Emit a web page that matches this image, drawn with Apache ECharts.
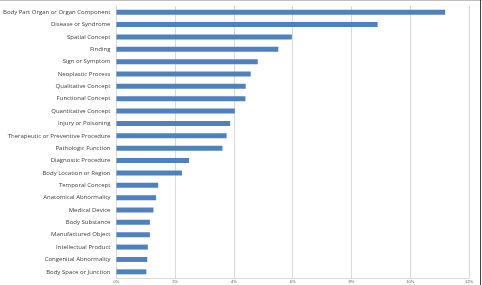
<!DOCTYPE html>
<html><head><meta charset="utf-8">
<script src="https://cdn.jsdelivr.net/npm/echarts@6/dist/echarts.min.js"></script>
<style>html,body{margin:0;padding:0;background:#fff}#c{width:482px;height:285px}</style>
</head><body><div id="c"></div>
<script>
const categories = [
  "Body Part Organ or Organ Component","Disease or Syndrome","Spatial Concept","Finding",
  "Sign or Symptom","Neoplastic Process","Qualitative Concept","Functional Concept",
  "Quantitative Concept","Injury or Poisoning","Therapeutic or Preventive Procedure",
  "Pathologic Function","Diagnostic Procedure","Body Location or Region","Temporal Concept",
  "Anatomical Abnormality","Medical Device","Body Substance","Manufactured Object",
  "Intellectual Product","Congenital Abnormality","Body Space or Junction"
];
const values = [11.19, 8.89, 5.97, 5.51, 4.81, 4.57, 4.40, 4.39, 4.03, 3.87, 3.75, 3.61, 2.47, 2.23, 1.42, 1.35, 1.26, 1.14, 1.14, 1.07, 1.05, 1.02];
const xTicks = [0, 2, 4, 6, 8, 10, 12];
</script>
<script>
const chart = echarts.init(document.getElementById('c'), null, {renderer:'canvas'});
chart.setOption({
  animation:false,
  backgroundColor:'#fff',
  grid:{left:113, right:13, top:6, bottom:7, containLabel:false},
  xAxis:{type:'value', min:xTicks[0], max:xTicks[xTicks.length-1], interval:2,
    axisLine:{show:true, lineStyle:{color:'#d9d9d9'}},
    axisTick:{show:false},
    splitLine:{show:true, lineStyle:{color:'#d9d9d9', width:1}},
    axisLabel:{formatter:v=>v+'%', fontSize:4, color:'#595959', margin:2, fontFamily:'Liberation Sans'}},
  yAxis:{type:'category', data:categories, inverse:true,
    axisLine:{show:true, lineStyle:{color:'#d9d9d9'}},
    axisTick:{show:false},
    axisLabel:{fontSize:6, color:'#404040', margin:6, fontFamily:'Open Sans'}},
  series:[{type:'bar', data:values, barWidth:5, itemStyle:{color:'#4f81bd'}}],
  graphic:[
    {type:'line', shape:{x1:0,y1:0.5,x2:482,y2:0.5}, style:{stroke:'#bfbfbf', lineWidth:1}},
    {type:'line', shape:{x1:480.5,y1:0,x2:480.5,y2:285}, style:{stroke:'#404040', lineWidth:1}}
  ]
});
</script></body></html>
